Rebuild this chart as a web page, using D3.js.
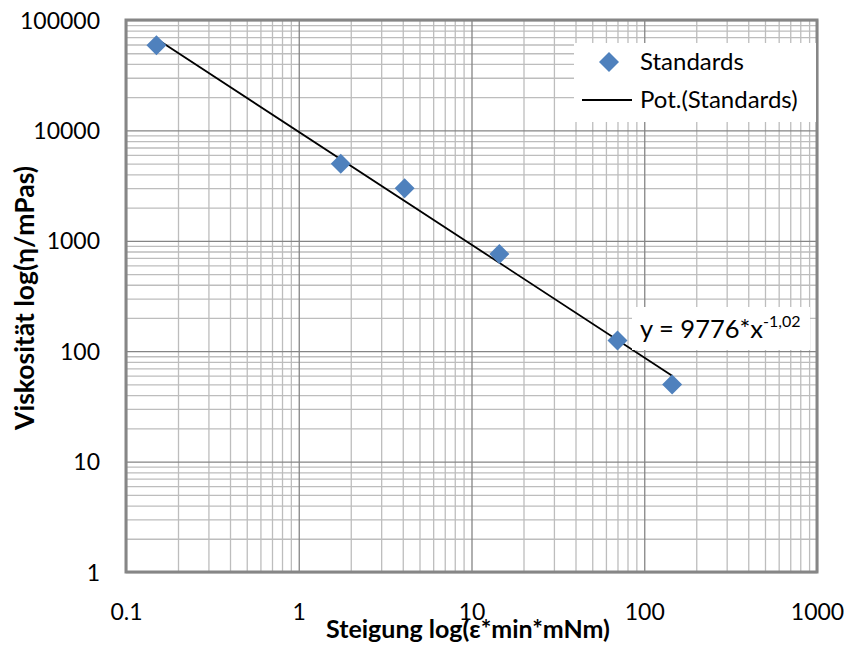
<!DOCTYPE html>
<html>
<head>
<meta charset="utf-8">
<script src="https://cdn.jsdelivr.net/npm/d3@7"></script>
<style>
  html, body { margin: 0; padding: 0; background: #fff; }
  svg { display: block; }
  text { font-family: Lato, "Open Sans", sans-serif; fill: #000; }
</style>
</head>
<body>
<svg id="chart" width="844" height="651"></svg>
<script>
// ---- data ----
const pointX = [0.15, 1.75, 4.1, 14.5, 70, 145];
const pointY = [59000, 5000, 3000, 760, 125, 50];
const trendX = [0.15, 145];
const trendY = [67500, 60];
const xTickValues = [0.1, 1, 10, 100, 1000];
const xTickLabels = ["0.1", "1", "10", "100", "1000"];
const yTickValues = [1, 10, 100, 1000, 10000, 100000];
const yTickLabels = ["1", "10", "100", "1000", "10000", "100000"];
const seriesName = "Standards";
const trendName = "Pot.(Standards)";
const equationMain = "y = 9776*x";
const equationExp = "-1,02";
const xTitle = "Steigung log(ε*min*mNm)";
const yTitle = "Viskosität log(η/mPas)";

// ---- layout ----
const L = 126, T = 20, R = 817, B = 572;
const W = R - L, H = B - T;
const svg = d3.select("#chart");

const x = d3.scaleLog().domain([0.1, 1000]).range([L, R]);
const y = d3.scaleLog().domain([1, 100000]).range([B, T]);

const minorX = x.ticks().filter(v => !xTickValues.some(m => Math.abs(m - v) / m < 1e-9));
const minorY = y.ticks().filter(v => !yTickValues.some(m => Math.abs(m - v) / m < 1e-9));

// minor grid
const gMinX = svg.append("g").attr("transform", `translate(0,${B})`)
  .call(d3.axisBottom(x).tickValues(minorX).tickSize(-H).tickFormat(""));
const gMinY = svg.append("g").attr("transform", `translate(${L},0)`)
  .call(d3.axisLeft(y).tickValues(minorY).tickSize(-W).tickFormat(""));
[gMinX, gMinY].forEach(g => {
  g.select(".domain").remove();
  g.selectAll("line").attr("stroke", "#bdbdbd").attr("stroke-width", 1.3);
});
// major grid
const gMajX = svg.append("g").attr("transform", `translate(0,${B})`)
  .call(d3.axisBottom(x).tickValues(xTickValues).tickSize(-H).tickFormat(""));
const gMajY = svg.append("g").attr("transform", `translate(${L},0)`)
  .call(d3.axisLeft(y).tickValues(yTickValues).tickSize(-W).tickFormat(""));
[gMajX, gMajY].forEach(g => {
  g.select(".domain").remove();
  g.selectAll("line").attr("stroke", "#858585").attr("stroke-width", 1.3);
});

// plot border
svg.append("rect").attr("x", L).attr("y", T).attr("width", W).attr("height", H)
  .attr("fill", "none").attr("stroke", "#868686").attr("stroke-width", 3);

// tick labels via axes
const axX = svg.append("g").attr("transform", `translate(0,${B})`)
  .call(d3.axisBottom(x).tickValues(xTickValues).tickSize(0).tickPadding(0)
    .tickFormat((d, i) => xTickLabels[i]));
axX.select(".domain").remove();
axX.selectAll("text").attr("font-size", 23).attr("dy", null).attr("y", 48)
  .attr("font-family", "Lato, sans-serif").attr("fill", "#000");

const axY = svg.append("g").attr("transform", `translate(${L},0)`)
  .call(d3.axisLeft(y).tickValues(yTickValues).tickSize(0).tickPadding(0)
    .tickFormat((d, i) => yTickLabels[i]));
axY.select(".domain").remove();
axY.selectAll("text").attr("font-size", 23).attr("x", -26).attr("dy", "0.35em")
  .attr("font-family", "Lato, sans-serif").attr("fill", "#000");

// trend line
svg.append("path")
  .datum(trendX.map((v, i) => [v, trendY[i]]))
  .attr("d", d3.line().x(d => x(d[0])).y(d => y(d[1])))
  .attr("fill", "none").attr("stroke", "#000").attr("stroke-width", 1.8);

// points
const diamond = d3.symbol().type(d3.symbolSquare).size(200);
svg.append("g").selectAll("path")
  .data(pointX.map((v, i) => [v, pointY[i]]))
  .join("path")
  .attr("d", diamond)
  .attr("transform", d => `translate(${x(d[0])},${y(d[1])}) rotate(45)`)
  .attr("fill", "#4f81bd");

// legend
const leg = svg.append("g");
leg.append("rect").attr("x", 574).attr("y", 43).attr("width", 242).attr("height", 79).attr("fill", "#fff");
leg.append("path").attr("d", d3.symbol().type(d3.symbolSquare).size(200))
  .attr("transform", "translate(609,62) rotate(45)").attr("fill", "#4f81bd");
leg.append("text").attr("x", 640).attr("y", 70).attr("font-size", 24).text(seriesName);
leg.append("line").attr("x1", 582).attr("x2", 632).attr("y1", 100).attr("y2", 100)
  .attr("stroke", "#000").attr("stroke-width", 1.8);
leg.append("text").attr("x", 640).attr("y", 108).attr("font-size", 24).text(trendName);

// equation label
svg.append("rect").attr("x", 632).attr("y", 307).attr("width", 178).attr("height", 43).attr("fill", "#fff");
const eq = svg.append("text").attr("x", 640).attr("y", 338).attr("font-size", 25.5);
eq.append("tspan").text(equationMain);
eq.append("tspan").attr("font-size", 16).attr("dy", -11).text(equationExp);

// axis titles
svg.append("text").attr("x", 468).attr("y", 638).attr("text-anchor", "middle")
  .attr("font-size", 25).attr("font-weight", "bold").text(xTitle);
svg.append("text").attr("transform", "translate(34,298) rotate(-90)").attr("text-anchor", "middle")
  .attr("font-size", 26.5).attr("font-weight", "bold").text(yTitle);
</script>
</body>
</html>
